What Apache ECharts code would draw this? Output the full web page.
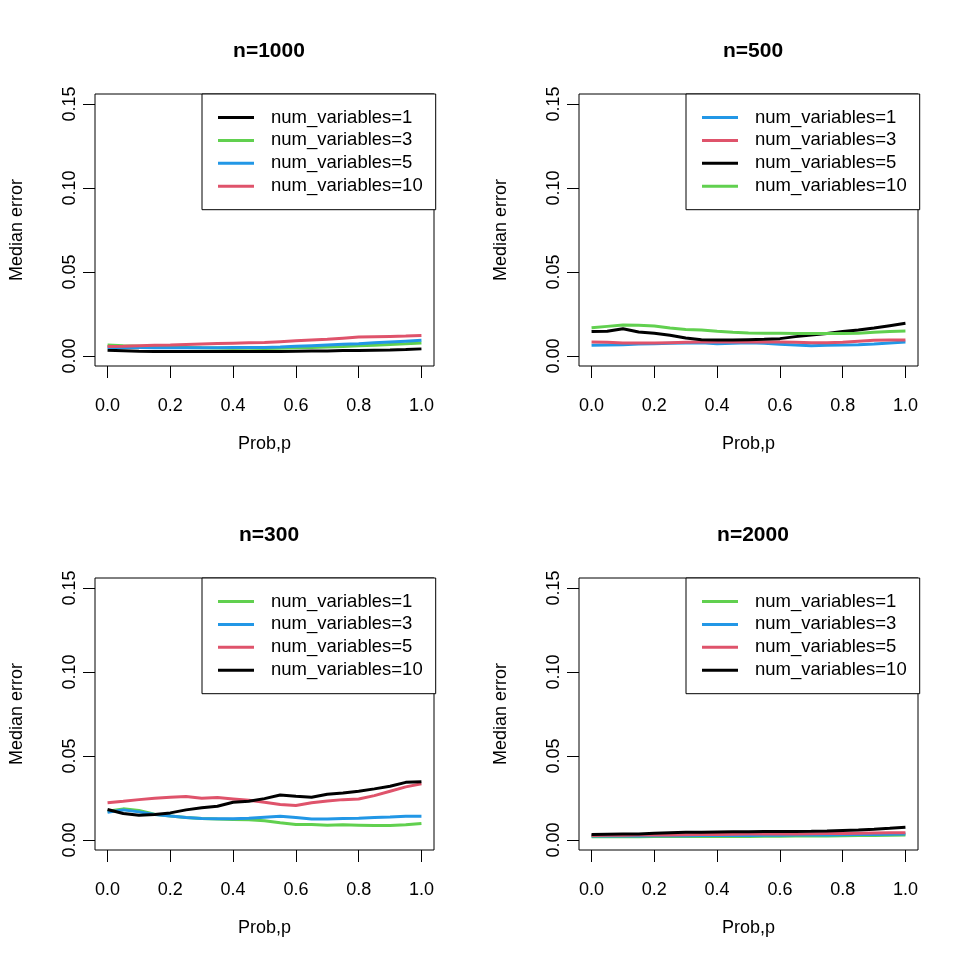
<!DOCTYPE html>
<html>
<head>
<meta charset="utf-8">
<script src="https://cdn.jsdelivr.net/npm/echarts@6/dist/echarts.min.js"></script>
<style>
html,body{margin:0;padding:0;background:#fff;width:969px;height:969px;overflow:hidden;}
.p{position:absolute;width:485px;height:485px;}
</style>
</head>
<body>
<div id="c0" class="p" style="left:0;top:0"></div>
<div id="c1" class="p" style="left:484px;top:0"></div>
<div id="c2" class="p" style="left:0;top:484px"></div>
<div id="c3" class="p" style="left:484px;top:484px"></div>
<script>
// x values (probability p)
const prob = [0,0.05,0.1,0.15,0.2,0.25,0.3,0.35,0.4,0.45,0.5,0.55,0.6,0.65,0.7,0.75,0.8,0.85,0.9,0.95,1];
const xTicks = [0,0.2,0.4,0.6,0.8,1.0];
const yTicks = [0,0.05,0.10,0.15];
const titles = ['n=1000','n=500','n=300','n=2000'];
const legendLabels = ['num_variables=1','num_variables=3','num_variables=5','num_variables=10'];

// panel n=1000 (num_variables = 1,3,5,10)
const n1000_v1  = [0.0034,0.0031,0.0028,0.0026,0.0026,0.0027,0.0027,0.0027,0.0028,0.0027,0.0026,0.0027,0.0028,0.0029,0.0030,0.0032,0.0033,0.0034,0.0035,0.0038,0.0042];
const n1000_v3  = [0.0065,0.0060,0.0057,0.0054,0.0052,0.0050,0.0048,0.0047,0.0046,0.0045,0.0044,0.0046,0.0048,0.0050,0.0053,0.0056,0.0060,0.0064,0.0068,0.0072,0.0077];
const n1000_v5  = [0.0050,0.0050,0.0050,0.0049,0.0049,0.0049,0.0049,0.0049,0.0050,0.0050,0.0050,0.0053,0.0057,0.0061,0.0065,0.0069,0.0073,0.0078,0.0083,0.0088,0.0093];
const n1000_v10 = [0.0056,0.0058,0.0061,0.0063,0.0065,0.0068,0.0071,0.0074,0.0076,0.0078,0.0080,0.0085,0.0090,0.0095,0.0100,0.0106,0.0112,0.0114,0.0116,0.0118,0.0121];

// panel n=500
const n500_v1  = [0.0063,0.0065,0.0067,0.0071,0.0073,0.0075,0.0077,0.0079,0.0073,0.0075,0.0079,0.0075,0.0069,0.0065,0.0061,0.0063,0.0065,0.0067,0.0071,0.0077,0.0083];
const n500_v3  = [0.0083,0.0081,0.0077,0.0077,0.0077,0.0079,0.0081,0.0083,0.0083,0.0083,0.0083,0.0083,0.0083,0.0081,0.0079,0.0079,0.0081,0.0087,0.0093,0.0095,0.0095];
const n500_v5  = [0.0145,0.0147,0.0162,0.0143,0.0135,0.0123,0.0107,0.0097,0.0095,0.0095,0.0097,0.0099,0.0103,0.0115,0.0125,0.0133,0.0145,0.0154,0.0166,0.0180,0.0194];
const n500_v10 = [0.0168,0.0176,0.0184,0.0182,0.0178,0.0166,0.0158,0.0154,0.0147,0.0141,0.0137,0.0135,0.0135,0.0133,0.0133,0.0133,0.0133,0.0135,0.0141,0.0145,0.0148];

// panel n=300
const n300_v1  = [0.0171,0.0185,0.0175,0.0153,0.0143,0.0134,0.0128,0.0124,0.0122,0.0120,0.0114,0.0102,0.0092,0.0092,0.0088,0.0090,0.0088,0.0086,0.0086,0.0090,0.0098];
const n300_v3  = [0.0165,0.0179,0.0167,0.0151,0.0143,0.0134,0.0128,0.0126,0.0126,0.0129,0.0135,0.0141,0.0134,0.0124,0.0124,0.0128,0.0129,0.0134,0.0137,0.0141,0.0141];
const n300_v5  = [0.0221,0.0230,0.0240,0.0248,0.0254,0.0258,0.0248,0.0252,0.0244,0.0236,0.0224,0.0211,0.0205,0.0221,0.0232,0.0240,0.0244,0.0264,0.0290,0.0316,0.0335];
const n300_v10 = [0.0181,0.0157,0.0147,0.0151,0.0161,0.0179,0.0191,0.0201,0.0224,0.0230,0.0246,0.0268,0.0260,0.0254,0.0272,0.0280,0.0290,0.0304,0.0320,0.0343,0.0347];

// panel n=2000
const n2000_v1  = [0.0019,0.0019,0.0019,0.0019,0.0020,0.0020,0.0020,0.0021,0.0021,0.0021,0.0021,0.0022,0.0022,0.0023,0.0023,0.0024,0.0025,0.0026,0.0027,0.0028,0.0029];
const n2000_v3  = [0.0023,0.0023,0.0024,0.0024,0.0025,0.0025,0.0025,0.0026,0.0026,0.0027,0.0027,0.0028,0.0028,0.0029,0.0029,0.0030,0.0031,0.0032,0.0033,0.0034,0.0035];
const n2000_v5  = [0.0027,0.0028,0.0028,0.0029,0.0029,0.0030,0.0031,0.0032,0.0033,0.0034,0.0035,0.0035,0.0036,0.0036,0.0037,0.0038,0.0039,0.0040,0.0041,0.0042,0.0043];
const n2000_v10 = [0.0033,0.0034,0.0035,0.0036,0.0040,0.0043,0.0045,0.0046,0.0047,0.0048,0.0049,0.0050,0.0050,0.0050,0.0051,0.0053,0.0056,0.0059,0.0063,0.0069,0.0076];

const panelData = [
  [n1000_v1, n1000_v3, n1000_v5, n1000_v10],
  [n500_v1, n500_v3, n500_v5, n500_v10],
  [n300_v1, n300_v3, n300_v5, n300_v10],
  [n2000_v1, n2000_v3, n2000_v5, n2000_v10]
];
const BLACK='#000000', GREEN='#61D04F', BLUE='#2297E6', RED='#DF536B';
const panelColors = [
  [BLACK, GREEN, BLUE, RED],
  [BLUE, RED, BLACK, GREEN],
  [GREEN, BLUE, RED, BLACK],
  [GREEN, BLUE, RED, BLACK]
];

const FONT = '"Liberation Sans", Arial, Helvetica, sans-serif';

for (let k = 0; k < 4; k++) {
  const chart = echarts.init(document.getElementById('c' + k), null, {renderer: 'canvas'});
  const series = panelData[k].map((vals, i) => ({
    name: legendLabels[i],
    type: 'line',
    data: prob.map((p, j) => [p, vals[j]]),
    symbol: 'none',
    showSymbol: false,
    smooth: false,
    lineStyle: {color: panelColors[k][i], width: 3},
    itemStyle: {color: panelColors[k][i]},
    emphasis: {disabled: true},
    silent: true,
    animation: false
  }));
  chart.setOption({
    animation: false,
    backgroundColor: '#ffffff',
    textStyle: {fontFamily: FONT},
    title: {
      text: titles[k],
      left: 264, top: 36, textAlign: 'center',
      textStyle: {fontFamily: FONT, fontWeight: 'bold', fontSize: 21, color: '#000'}
    },
    grid: {
      left: 94, top: 94, width: 340, height: 272,
      show: true, borderColor: '#000', borderWidth: 1, backgroundColor: 'transparent',
      containLabel: false
    },
    legend: {
      orient: 'vertical',
      left: 202, top: 94,
      data: legendLabels,
      icon: 'rect',
      itemWidth: 36, itemHeight: 3, itemGap: 3.9,
      padding: [14, 13, 14, 16],
      borderColor: '#000', borderWidth: 1, borderRadius: 0,
      backgroundColor: '#fff',
      selectedMode: false,
      textStyle: {fontFamily: FONT, fontSize: 18.5, color: '#000', padding: [0, 0, 0, 12]}
    },
    xAxis: {
      type: 'value', min: -0.04, max: 1.04,
      name: 'Prob,p', nameLocation: 'middle', nameGap: 69,
      nameTextStyle: {fontFamily: FONT, fontSize: 18, color: '#000'},
      axisLine: {show: false, onZero: false},
      splitLine: {show: false},
      axisTick: {show: true, inside: false, length: 12, customValues: xTicks, lineStyle: {color: '#000', width: 1}},
      axisLabel: {show: true, margin: 31, customValues: xTicks, color: '#000', fontFamily: FONT, fontSize: 18,
        formatter: v => v.toFixed(1)}
    },
    yAxis: {
      type: 'value', min: -0.006, max: 0.156,
      name: 'Median error', nameLocation: 'middle', nameGap: 69, nameRotate: 90,
      nameTextStyle: {fontFamily: FONT, fontSize: 18, color: '#000'},
      axisLine: {show: false, onZero: false},
      splitLine: {show: false},
      axisTick: {show: true, inside: false, length: 12, customValues: yTicks, lineStyle: {color: '#000', width: 1}},
      axisLabel: {show: true, margin: 16, rotate: 90, customValues: yTicks, color: '#000', fontFamily: FONT, fontSize: 18,
        formatter: v => v.toFixed(2)}
    },
    series: series
  });
}
</script>
</body>
</html>
